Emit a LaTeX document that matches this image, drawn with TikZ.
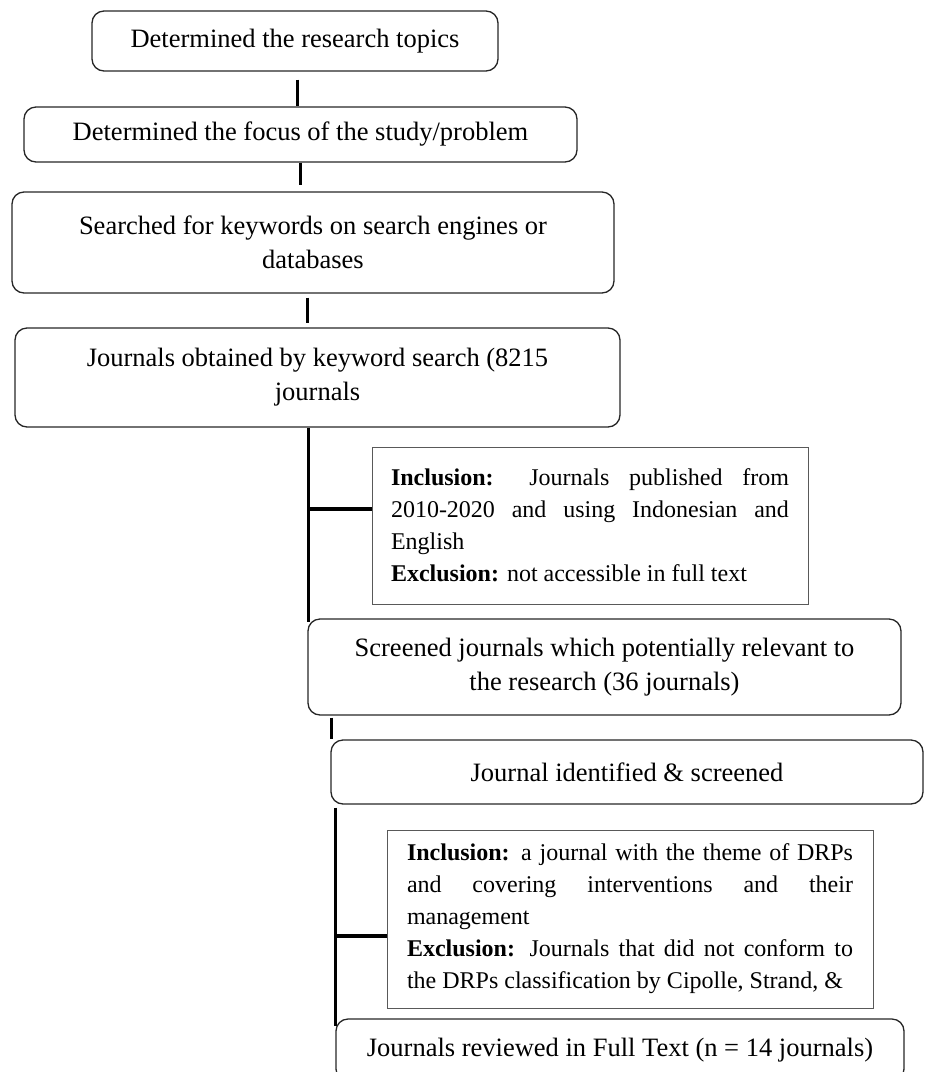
\documentclass[tikz,border=0pt]{standalone}
\usepackage{fontspec}
\setmainfont{Liberation Serif}
\usetikzlibrary{calc,positioning}
\hyphenpenalty=10000
\exhyphenpenalty=10000
\hfuzz=20pt
\tikzstyle{stage}    = [rectangle, rounded corners=12pt, draw=black!85, line width=1.3pt, align=center, inner sep=0pt, font=\fontsize{26.5}{34}\selectfont]
\tikzstyle{criteria} = [rectangle, draw=black!65, line width=1pt, inner sep=0pt, align=justify, font=\fontsize{24}{32}\selectfont]
\tikzstyle{link}     = [line width=3pt]
\tikzstyle{branch}   = [line width=4.5pt]
\begin{document}
\begin{tikzpicture}[x=1pt,y=-1pt]
		\useasboundingbox (0,0) rectangle (925,1072);

		\node[stage, minimum width=406, minimum height=60] (topic) at (295,41) {Determined the research topics};
		\node[stage, minimum width=553, minimum height=55] (focus) at (300.5,134.5) {Determined the focus of the study/problem};
		\node[stage, minimum width=602, minimum height=101] (search) at (313,242.5) {Searched for keywords on search engines or\\databases};
		\node[stage, minimum width=605, minimum height=99] (found) at (317.5,377.5) {Journals obtained by keyword search (8215\\journals};
		\node[criteria, minimum width=436, minimum height=157, text width=398] (crit1) at (590,525.5)
			{\textbf{Inclusion:} Journals published from 2010-2020 and using Indonesian and English\par
			\textbf{Exclusion:} not accessible in full text};
		\node[stage, minimum width=593, minimum height=96] (screen) at (604.5,667) {Screened journals which potentially relevant to\\the research (36 journals)};
		\node[stage, minimum width=592, minimum height=64] (ident) at (627,772) {Journal identified \& screened};
		\node[criteria, minimum width=486, minimum height=178, text width=446] (crit2) at (630,919)
			{\textbf{Inclusion:} a journal with the theme of DRPs\linebreak and covering interventions and their\linebreak management\par
			\textbf{Exclusion:} Journals that did not conform to\linebreak the DRPs classification by Cipolle, Strand, \&};
		\node[stage, minimum width=568, minimum height=62] (review) at (620,1050) {Journals reviewed in Full Text (n = 14 journals)};

		\draw[link] ([xshift=2pt,yshift=-8pt]topic.south) -- ([xshift=2pt]topic.south |- focus.north);
		\draw[link] (focus.south) -- ([yshift=6pt]focus.south |- search.north);
		\draw[link] ([xshift=-6pt,yshift=-4pt]search.south) -- ([xshift=-6pt,yshift=4pt]search.south |- found.north);

		\draw[link] ([xshift=1.5pt]found.south -| screen.west) -- ([xshift=1.5pt,yshift=-4pt]screen.north west);
		\draw[branch] ([yshift=16.5pt]crit1.west) -- ([xshift=1.5pt,yshift=16.5pt]crit1.west -| screen.west);

		\draw[link] ([xshift=1.5pt,yshift=-2pt]screen.south -| ident.west) -- ([xshift=1.5pt]ident.north west);
		\draw[link] ([yshift=-3pt]ident.south -| review.west) -- ([yshift=-8pt]review.north west);
		\draw[branch] ([yshift=-17pt]crit2.west) -- ([yshift=-17pt]crit2.west -| review.west);
	\end{tikzpicture}
\end{document}
